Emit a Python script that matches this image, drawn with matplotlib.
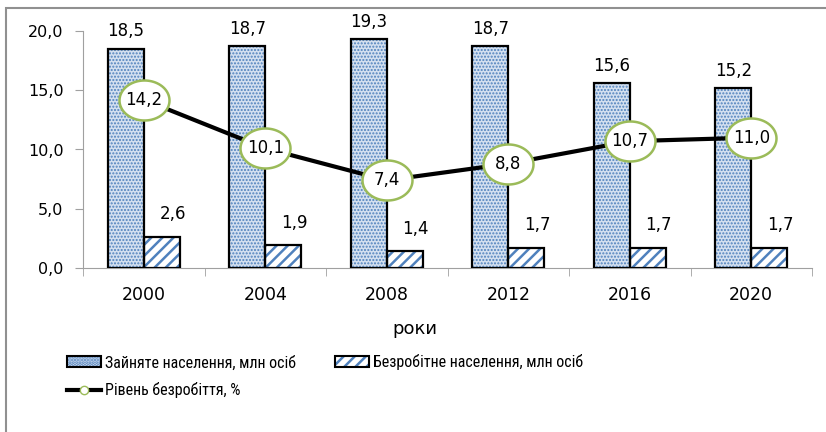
import matplotlib
matplotlib.use("Agg")
import matplotlib.pyplot as plt
from matplotlib.patches import Patch, Rectangle
from matplotlib.lines import Line2D
from matplotlib.path import Path
import numpy as np

years = ["2000", "2004", "2008", "2012", "2016", "2020"]
employed = [18.5, 18.7, 19.3, 18.7, 15.6, 15.2]
unemployed = [2.6, 1.9, 1.4, 1.7, 1.7, 1.7]
rate = [14.2, 10.1, 7.4, 8.8, 10.7, 11.0]
yticks = [0, 5, 10, 15, 20]
xlabel = "роки"
leg_emp = "Зайняте населення, млн осіб"
leg_unemp = "Безробітне населення, млн осіб"
leg_rate = "Рівень безробіття, %"

def fmt(v):
    return f"{v:.1f}".replace(".", ",")

fig = plt.figure(figsize=(8.26, 4.32), dpi=100)
ax = fig.add_axes([83/826, 1-268/432, (812-83)/826, (268-31)/432])

x = np.arange(len(years))
w = 0.296
blue = '#4F81BD'
plt.rcParams['hatch.linewidth'] = 1.0
ax.bar(x - w/2, employed, w, facecolor='#D4E0F0', edgecolor=blue, hatch='.....', linewidth=0, zorder=2)
ax.bar(x - w/2, employed, w, fill=False, edgecolor='black', linewidth=1.6, zorder=3)
plt.rcParams['hatch.linewidth'] = 1.8
ax.bar(x + w/2, unemployed, w, facecolor='white', edgecolor=blue, hatch='///', linewidth=0, zorder=2)
ax.bar(x + w/2, unemployed, w, fill=False, edgecolor='black', linewidth=1.6, zorder=3)

ax.plot(x, rate, color='black', linewidth=3, zorder=4)

t = np.linspace(0, 2*np.pi, 80)
ell = Path(np.column_stack([np.cos(t), 0.80*np.sin(t)]), closed=True)
ax.plot(x, rate, linestyle='none', marker=ell, markersize=36, markerfacecolor='white',
        markeredgecolor='#9BBB59', markeredgewidth=1.8, zorder=5)

for xi, v in zip(x, employed):
    ax.annotate(fmt(v), (xi - w/2, v), xytext=(0, 6), textcoords='offset points',
                ha='center', va='bottom', fontsize=12, zorder=6)
for xi, v in zip(x, unemployed):
    ax.annotate(fmt(v), (xi + w/2, v), xytext=(8, 10), textcoords='offset points',
                ha='center', va='bottom', fontsize=12, zorder=6)
for xi, v in zip(x, rate):
    ax.text(xi, v, fmt(v), ha='center', va='center', fontsize=12, zorder=7)

ax.set_xlim(-0.5, len(years) - 0.5)
ax.set_ylim(0, 20)
ax.set_yticks(yticks)
ax.set_yticklabels([fmt(t) for t in yticks], fontsize=11.5)
ax.set_xticks(x)
ax.set_xticklabels(years, fontsize=12.5)
ax.set_xticks(np.arange(len(years) + 1) - 0.5, minor=True)
ax.tick_params(axis='x', which='major', length=0, pad=13)
ax.tick_params(axis='x', which='minor', length=6, color='#A0A0A0', direction='out')
ax.tick_params(axis='y', length=6, color='#A0A0A0', direction='out', pad=8)
for s in ['top', 'right']:
    ax.spines[s].set_visible(False)
for s in ['left', 'bottom']:
    ax.spines[s].set_color('#A0A0A0')
ax.set_xlabel(xlabel, fontsize=13)
ax.xaxis.set_label_coords((415-83)/729, -(320-268)/237)

fig.patches.append(Rectangle((6/826, -0.1), 1.2, (432-8)/432 + 0.1, transform=fig.transFigure,
                             fill=False, edgecolor='#909090', linewidth=1.5))

h_emp = (Patch(facecolor='#D4E0F0', edgecolor=blue, hatch='.....', linewidth=0),
         Patch(fill=False, edgecolor='black', linewidth=1.5))
h_unemp = (Patch(facecolor='white', edgecolor=blue, hatch='///', linewidth=0),
           Patch(fill=False, edgecolor='black', linewidth=1.5))
h_rate = Line2D([], [], color='black', linewidth=3, marker='o', markersize=6,
                markerfacecolor='white', markeredgecolor='#9BBB59')
leg = fig.legend([h_emp, h_rate, h_unemp], [leg_emp, leg_rate, leg_unemp],
                 loc='upper left', bbox_to_anchor=(53/826, 1-340/432), ncol=2,
                 frameon=False, handlelength=2.1, handletextpad=0.25, columnspacing=2.45,
                 labelspacing=0.75,
                 prop={'family': ['Roboto Condensed', 'PT Sans Narrow', 'DejaVu Sans'], 'size': 11.5})

fig.savefig("out.png", dpi=100)
